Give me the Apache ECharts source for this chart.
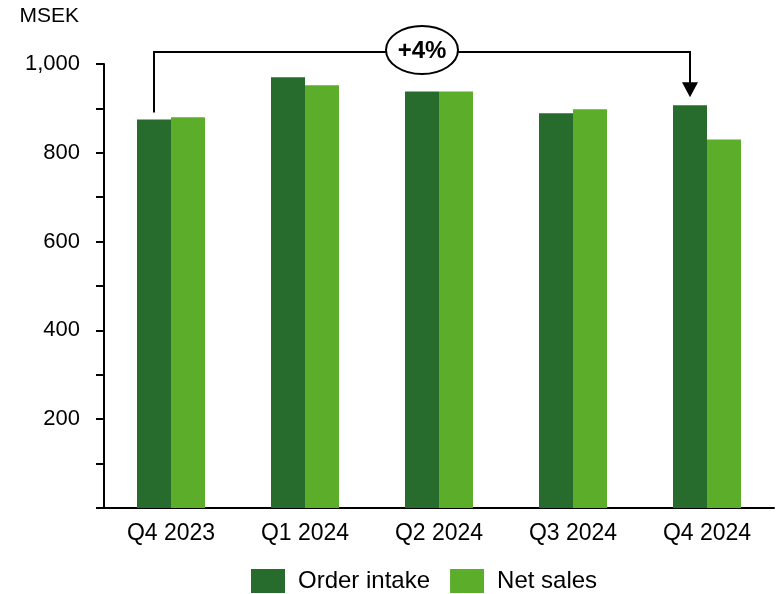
<!DOCTYPE html>
<html>
<head>
<meta charset="utf-8">
<script src="https://cdn.jsdelivr.net/npm/echarts@6/dist/echarts.min.js"></script>
<style>html,body{margin:0;padding:0;background:#fff}#c{width:779px;height:594px}</style>
</head>
<body>
<div id="c"></div>
<script>
const categories = ['Q4 2023', 'Q1 2024', 'Q2 2024', 'Q3 2024', 'Q4 2024'];
const orderIntake = [875, 970, 938, 889, 907];
const netSales = [880, 952, 938, 898, 830];
const seriesNames = ['Order intake', 'Net sales'];
const unitLabel = 'MSEK';
const changeLabel = '+4%';

const FONT = '"Liberation Sans", Arial, sans-serif';
const barW = 34;
const chart = echarts.init(document.getElementById('c'), null, {renderer: 'canvas'});
chart.setOption({
  animation: false,
  textStyle: {fontFamily: FONT},
  grid: {left: 104, right: 5, top: 64, bottom: 86},
  legend: {
    data: seriesNames, top: 569, left: 251, padding: 0,
    icon: 'rect', itemWidth: 34, itemHeight: 24, itemGap: 20,
    textStyle: {fontSize: 24, color: '#000', fontFamily: FONT, padding: [0, 0, 0, 8]}
  },
  xAxis: {
    type: 'category', data: categories,
    axisLine: {lineStyle: {color: '#000', width: 2}},
    axisTick: {show: false},
    axisLabel: {color: '#000', fontSize: 23, margin: 14, fontFamily: FONT}
  },
  yAxis: {
    type: 'value', min: 0, max: 1000, interval: 100,
    splitLine: {show: false},
    axisLine: {show: true, lineStyle: {color: '#000', width: 2}},
    axisTick: {show: true, length: 8, lineStyle: {color: '#000', width: 2}},
    axisLabel: {
      color: '#000', fontSize: 22, margin: 24, fontFamily: FONT,
      formatter: v => (v > 0 && v % 200 === 0) ? v.toLocaleString('en-US') : ''
    }
  },
  series: [
    {name: seriesNames[0], type: 'bar', data: orderIntake, barWidth: barW, barGap: '0%', itemStyle: {color: '#276C2D'}},
    {name: seriesNames[1], type: 'bar', data: netSales, barWidth: barW, barGap: '0%', itemStyle: {color: '#5CAD29'}}
  ]
});

const x0 = chart.convertToPixel({xAxisIndex: 0}, categories[0]) - barW / 2;
const x1 = chart.convertToPixel({xAxisIndex: 0}, categories[categories.length - 1]) - barW / 2;
const y0 = chart.convertToPixel({yAxisIndex: 0}, orderIntake[0]);
const y1 = chart.convertToPixel({yAxisIndex: 0}, orderIntake[orderIntake.length - 1]);
const yLine = 52;
const cx = (x0 + x1) / 2;
chart.setOption({
  graphic: [
    {type: 'text', x: 79, y: 16, style: {text: unitLabel, font: '21px ' + FONT, fill: '#000', textAlign: 'right', textVerticalAlign: 'middle'}},
    {type: 'polyline', shape: {points: [[x0, y0 - 7], [x0, yLine], [x1, yLine], [x1, y1 - 22]]}, style: {stroke: '#000', lineWidth: 2, fill: null}},
    {type: 'polygon', shape: {points: [[x1 - 8, y1 - 23], [x1 + 8, y1 - 23], [x1, y1 - 8]]}, style: {fill: '#000'}},
    {type: 'ellipse', shape: {cx: cx, cy: 50, rx: 36, ry: 24}, style: {fill: '#fff', stroke: '#000', lineWidth: 2}},
    {type: 'text', x: cx, y: 51, style: {text: changeLabel, font: 'bold 24px ' + FONT, fill: '#000', textAlign: 'center', textVerticalAlign: 'middle'}}
  ]
});
</script>
</body>
</html>
